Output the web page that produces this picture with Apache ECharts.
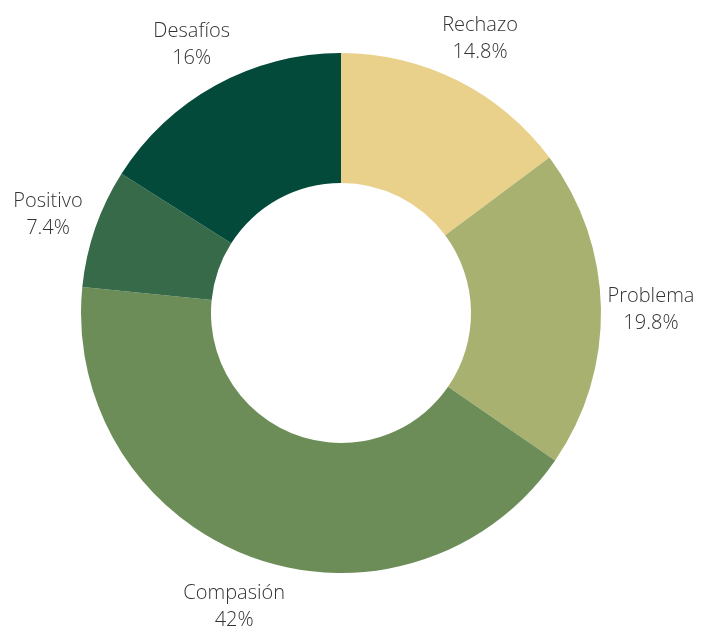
<!DOCTYPE html>
<html>
<head>
<meta charset="utf-8">
<script src="https://cdn.jsdelivr.net/npm/echarts@6/dist/echarts.min.js"></script>
<style>html,body{margin:0;padding:0;background:#fff}#c{width:701px;height:626px}</style>
</head>
<body>
<div id="c"></div>
<script>
const categories = ['Rechazo', 'Problema', 'Compasión', 'Positivo', 'Desafíos'];
const values = [14.8, 19.8, 42, 7.4, 16];
const colors = ['#E9D18B', '#A8B16F', '#6C8D58', '#366A48', '#034A3A'];

const data = categories.map((n, i) => ({ name: n, value: values[i], itemStyle: { color: colors[i] } }));
const labelData = categories.map((n, i) => ({ name: n, value: values[i] }));

const chart = echarts.init(document.getElementById('c'), null, { renderer: 'canvas' });
chart.setOption({
  animation: false,
  backgroundColor: '#fff',
  series: [
    {
      type: 'pie',
      center: [341, 313],
      radius: [130, 260],
      startAngle: 90,
      clockwise: true,
      silent: true,
      label: { show: false },
      labelLine: { show: false },
      data: data
    },
    {
      type: 'pie',
      center: [341, 313],
      radius: [299, 315],
      startAngle: 90,
      clockwise: true,
      silent: true,
      itemStyle: { color: 'rgba(0,0,0,0)' },
      label: {
        show: true,
        position: 'inside',
        formatter: p => p.name + '\n' + p.value + '%',
        fontFamily: '"Open Sans", sans-serif',
        fontSize: 20,
        fontWeight: 300,
        lineHeight: 27,
        color: '#333333',
        align: 'center',
        offset: [0, 3]
      },
      labelLine: { show: false },
      data: labelData
    }
  ]
});
</script>
</body>
</html>
